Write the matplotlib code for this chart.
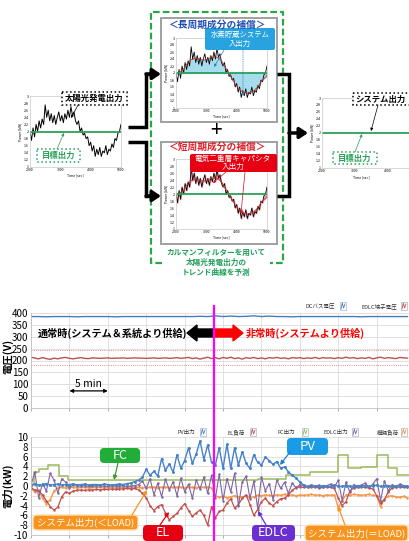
import numpy as np
import pandas as pd
import matplotlib
matplotlib.use('Agg')
import matplotlib.pyplot as plt
from matplotlib.patches import Rectangle, FancyBboxPatch, FancyArrow
from matplotlib.transforms import blended_transform_factory

plt.rcParams['font.family'] = ['Noto Sans CJK JP', 'DejaVu Sans']
plt.rcParams['axes.unicode_minus'] = False

W, H = 409, 541

# ---- diagram: PV output sample (kW), sampled every 50 s from 2000 s
solar_small = [2.0, 1.75, 2.1, 1.85,
               2.2, 2.0, 2.3, 2.1, 2.35, 2.2,
               2.75, 2.4, 2.6,
               2.3, 2.5, 2.25, 2.45, 2.2, 2.4,
               2.55, 2.3, 2.45, 2.25, 2.5, 2.35,
               2.6, 2.4, 2.7, 2.45, 2.55, 2.3,
               2.2, 2.3, 2.0, 2.1, 1.9, 1.95,
               1.8, 1.85, 1.6, 1.7, 1.45, 1.6,
               1.3, 1.5, 1.35, 1.55, 1.3, 1.45,
               1.4, 1.6, 1.35, 1.5, 1.45, 1.65,
               1.55, 1.8, 1.75, 1.95, 2.0, 2.2]
target_small = 2.0
small_ticks = [2000, 3000, 4000, 5000]

# ---- voltage chart (V)
dc_bus_v = [385, 385, 384, 385, 385, 385, 384, 385, 385, 385,
            385, 384, 385, 385, 385, 385, 385, 385, 385, 385,
            385, 385, 386, 385, 388, 385, 387, 385, 386, 388,
            385, 387, 385, 385, 384, 385, 385, 385, 385, 385,
            385, 385, 385, 384, 385, 385, 385, 385, 385, 385]
edlc_v = [214, 210, 207, 212, 208, 205, 210, 207, 211, 213,
          209, 207, 210, 212, 209, 208, 211, 210, 209, 210,
          211, 209, 210, 210, 211, 209, 210, 211, 210, 210,
          209, 210, 211, 209, 210, 211, 209, 210, 212, 209,
          211, 213, 208, 211, 206, 210, 214, 208, 212, 207,
          213, 209, 214, 208, 211, 206, 212, 209, 213, 208,
          211, 207, 212, 210, 213, 209, 211, 207, 212, 210,
          212, 208, 211, 209, 213, 208, 212, 210, 211, 208,
          212, 209, 214, 210, 212, 208, 211, 209, 213, 207,
          211, 214, 209, 212, 210, 208, 213, 211, 210]
edlc_v_max = 245
edlc_v_min = 180

# ---- power chart (kW), sampled every 0.5 min
pv_kw = [0.3, 0.4, 0.2, 0.3, 0.5, 0.2, 0.3, 0.4, 0.2, 0.3,
         0.3, 0.4, 0.2, 0.3, 0.4, 0.2, 0.3, 0.3, 0.2, 0.4,
         0.3, 0.2, 0.3, 0.4, 0.3, 0.5, 0.6, 0.9, 1.2,
         1.8, 3.4, 2.2, 3.0, 2.0, 5.6, 3.2, 4.5, 2.8, 6.4,
         3.6, 5.2, 7.8, 4.6, 6.5, 9.2, 5.4, 8.4, 4.8, 4.3,
         7.8, 3.6, 8.5, 3.6, 7.8, 4.3, 7.0, 4.6, 3.6, 6.4,
         4.8, 4.3, 5.9, 5.2, 4.4, 5.0, 3.6, 3.9, 2.9, 2.2,
         1.6, 0.8,
         0.2, -0.1, 0.1, 0.0, -0.2, 0.1, 0.0, -0.1, 0.2, 0.0,
         -0.1, 0.1, 0.0, -0.2, 0.1, 0.0, 0.1, -0.1, 0.0, 0.2,
         -0.1, 0.0, 0.1, -0.1, 0.0, 0.1, -0.1, 0.0]
el_kw = [-0.4, -0.8, -1.0, -1.8, -3.0, -4.2, -4.9, -4.3, -2.2, -1.2, -1.5, -1.0,
         -0.9, -0.8, -0.9, -0.8, -0.8, -0.7, -0.8, -0.7, -0.7, -0.6, -0.7, -0.6,
         -0.6, -0.5, -0.6, -0.5, -0.8,
         -1.5, -2.4, -4.0, -5.0, -4.2, -3.8, -5.5, -6.9, -6.2, -5.6,
         -4.5, -3.6, -5.0, -6.2, -5.5, -4.9, -6.0, -8.0, -4.2,
         -6.5, -5.2, -4.9, -3.5, -2.6, -4.5, -3.8, -2.5, -1.8, -3.8,
         -6.0, -4.8, -3.2, -2.5, -3.5, -4.0, -3.2, -2.6, -2.5, -1.8,
         -0.9, -0.3, -0.2,
         -0.3, -0.2, -0.3, -0.2, -0.4, -0.3, -0.2, -0.3, -0.5, -2.5,
         -4.0, -3.2, -1.0, -0.4, -0.3, -0.2, -0.3, -0.4, -0.6, -2.0,
         -3.5, -2.8, -1.2, -0.4, -0.3, -0.2, -0.3, -0.2]
edlc_kw = [0.2, 2.8, -2.4, 0.5, -1.0, 2.6, 1.2, -1.5, 1.5, 0.8, -0.4, 0.3,
           0.1, 0.0, 0.1, -0.1, 0.0, 0.1, 0.0, 0.0, -0.1, 0.1, 0.0, 0.0,
           0.1, -0.1, 0.0, 0.1, 0.3,
           1.0, -0.5, 1.5, -1.8, 0.6, -2.2, 1.4, -0.8, 0.9, -2.0,
           1.6, -1.2, 0.4, -2.5, 1.2, -0.6, 1.8, -1.5, 2.2,
           -2.5, 2.4, -3.0, 1.5, -1.2, 2.6, -4.0, 0.8, 2.0, -2.6,
           1.0, -4.5, 1.8, -1.0, 0.5, -2.8, 1.2, -0.5, 0.8, -1.5,
           0.6, -0.4, 0.3,
           0.1, -0.2, 0.3, -0.1, 0.2, -0.3, 0.1, 0.4, -0.2, 1.2,
           -3.0, 0.8, -1.2, 0.3, -0.2, 0.2, 0.6, -0.3, 0.4, 1.5,
           -3.0, 1.0, -1.0, 0.3, -0.2, 0.4, 0.1, -0.2]
load_kw = [-0.5, -1.2, -0.8, -2.5, -3.6, -2.8, -1.0,
           -0.4, -0.3, -0.4, -0.3, -0.3, -0.4, -0.3, -0.3, -0.4, -0.3,
           -0.3, -0.3, -0.4, -0.3, -0.3, -0.4, -0.3, -0.3, -0.3, -0.4,
           -0.3, -0.3, -0.4, -0.3, -0.3, -0.3, -0.4, -0.3, -0.3, -0.4,
           -0.3, -0.3, -0.3, -0.4, -0.3, -0.3, -0.4, -0.3, -0.3, -0.3,
           -0.4,
           -2.0, -2.3, -2.1, -2.4, -2.2, -2.0, -2.3, -2.2, -2.1, -2.4,
           -2.2, -1.9, -2.0, -1.8, -1.9, -2.0, -1.8, -1.9, -1.7, -1.9,
           -1.8, -2.0, -1.8, -1.9, -1.8, -1.7, -1.9, -1.8, -2.0, -1.8,
           -1.9, -1.8,
           -4.5, -3.0, -1.8, -1.9, -1.7, -1.8, -1.9, -1.8, -1.7, -1.9,
           -2.0, -4.2, -2.6, -2.1, -2.0, -2.2, -2.3, -2.1, -2.4]
# FC output is stepwise: (start minute, kW)
fc_t = [0, 0.4, 1.0, 2.2, 3.6, 4.8, 29.5, 33.2, 36.3, 40.0, 41.3, 43.0, 45.0, 46.5, 47.7, 49.2]
fc_kw = [0.3, 2.9, 3.5, 4.3, 2.0, 1.2, 1.5, 2.2, 2.9, 6.3, 3.7, 3.9, 6.3, 3.7, 2.2, 2.2]
t_switch = 23.8   # grid outage (min)
t_end = 49.2

C_PV, C_EL, C_FC, C_EDLC, C_LOAD = '#4682c8', '#c0504d', '#9bbb59', '#8064a2', '#f79646'
GREEN = '#2aa15a'


def px(x0, y0, x1, y1):
    return [x0 / W, 1 - y1 / H, (x1 - x0) / W, (y1 - y0) / H]


fig = plt.figure(figsize=(W / 100, H / 100), dpi=100)
small_time = 2000 + 50 * np.arange(len(solar_small))
trend = pd.Series(solar_small).rolling(9, center=True, min_periods=1).mean().values


def mini_axes(rect, ticks=small_ticks):
    ax = fig.add_axes(rect)
    ax.set_xlim(small_time[0], small_time[-1])
    ax.set_ylim(1, 3)
    yt = np.round(np.arange(1, 3.01, 0.2), 1)
    ax.set_yticks(yt)
    ax.set_yticklabels([f'{v:g}' for v in yt], fontsize=2.5)
    ax.set_xticks(ticks)
    ax.set_xticklabels([str(v) for v in ticks], fontsize=2.5)
    ax.tick_params(length=0, pad=1)
    ax.set_xlabel('Time [sec]', fontsize=2.5, labelpad=1)
    ax.set_ylabel('Power [kW]', fontsize=2.5, labelpad=1)
    for s in ax.spines.values():
        s.set_color('#c8c8c8')
        s.set_linewidth(0.5)
    return ax


ax_src = mini_axes(px(30, 96, 121, 167))
ax_src.plot(small_time, solar_small, color='black', lw=0.7)
ax_src.axhline(target_small, color=GREEN, lw=1.3)

ax_long = mini_axes(px(176, 38, 267, 108))
ax_long.fill_between(small_time, trend, target_small, color='#a6dcec')
ax_long.plot(small_time, solar_small, color='black', lw=0.6)
ax_long.plot(small_time, trend, color='#c0392b', lw=0.6)
ax_long.axhline(target_small, color=GREEN, lw=1.3)

ax_short = mini_axes(px(176, 159, 267, 229))
ax_short.fill_between(small_time, solar_small, trend, color='#f4a9bd')
ax_short.plot(small_time, solar_small, color='black', lw=0.6)
ax_short.plot(small_time, trend, color='#c0392b', lw=0.6)
ax_short.axhline(target_small, color=GREEN, lw=1.3)

# the output chart runs past the right edge of the picture
ax_out = mini_axes(px(322, 98, 420, 168), ticks=small_ticks[:3])
ax_out.axhline(target_small, color=GREEN, lw=1.3)
ax_out.xaxis.set_label_coords(0.4, -0.1)


def chart_style(ax):
    ax.set_xlim(0, t_end)
    ax.set_xticks(np.arange(0, t_end, 5))
    ax.tick_params(axis='x', labelbottom=False, length=2, color='#b0b0b0')
    ax.tick_params(axis='y', length=0, pad=2, labelsize=7)
    ax.grid(True, color='#dcdcdc', lw=0.6)
    ax.set_axisbelow(True)
    for k in ('top', 'right'):
        ax.spines[k].set_visible(False)
    for k in ('left', 'bottom'):
        ax.spines[k].set_color('#c0c0c0')
        ax.spines[k].set_linewidth(0.6)


ax_v = fig.add_axes(px(31, 313, 409, 408))
chart_style(ax_v)
ax_v.set_ylim(0, 400)
ax_v.set_yticks(np.arange(0, 401, 50))
ax_v.plot(np.arange(len(dc_bus_v)) * 1.0, dc_bus_v, color='#4a7ebb', lw=1.0)
ax_v.plot(np.arange(len(edlc_v)) * 0.5, edlc_v, color=C_EL, lw=1.0)
ax_v.axhline(edlc_v_max, color='#e06666', lw=0.6, ls=':')
ax_v.axhline(edlc_v_min, color='#e06666', lw=0.6, ls=':')
ax_v.annotate('', xy=(5, 72), xytext=(10, 72),
              arrowprops=dict(arrowstyle='<|-|>', color='black', lw=0.9, mutation_scale=5,
                              shrinkA=0, shrinkB=0))
ax_v.text(7.5, 82, '5 min', ha='center', va='bottom', fontsize=7.5)

ax_p = fig.add_axes(px(31, 437, 409, 535))
chart_style(ax_p)
ax_p.set_ylim(-10, 10)
ax_p.set_yticks(np.arange(-10, 11, 2))
t_p = np.arange(len(pv_kw)) * 0.5
ax_p.plot(fc_t, fc_kw, color=C_FC, lw=1.1, drawstyle='steps-post')
ax_p.plot(np.arange(len(load_kw)) * 0.5, load_kw, color=C_LOAD, lw=1.0, marker='.', ms=1.5)
ax_p.plot(np.arange(len(el_kw)) * 0.5, el_kw, color=C_EL, lw=0.9, marker='.', ms=1.5)
ax_p.plot(np.arange(len(edlc_kw)) * 0.5, edlc_kw, color=C_EDLC, lw=0.8, marker='.', ms=1.5)
ax_p.plot(t_p, pv_kw, color=C_PV, lw=1.0, marker='.', ms=2.2)

# ---- overlay in pixel coordinates for the diagram and call-outs
ov = fig.add_axes([0, 0, 1, 1], zorder=10)
ov.set_xlim(0, W)
ov.set_ylim(H, 0)
ov.axis('off')

blend = blended_transform_factory(ax_p.transData, ov.transData)
ov.plot([t_switch, t_switch], [306, 541], color='#ff00ff', lw=1.6, transform=blend)

# diagram frames and connectors
ov.plot([162, 151, 151, 283, 283, 270], [263, 263, 12, 12, 263, 263],
        color='#2aa54a', lw=1.6, dashes=(3, 1.4))
ov.add_patch(Rectangle((161, 18), 116, 104, fill=False, ec='#a0a0a0', lw=1.4))
ov.add_patch(Rectangle((161, 142), 116, 102, fill=False, ec='#a0a0a0', lw=1.4))
ov.text(216, 131, '+', fontsize=15, ha='center', va='center')

conn = dict(color='black', lw=2.5, solid_joinstyle='miter', solid_capstyle='butt')
ov.plot([128, 146, 146, 152], [127, 127, 74, 74], **conn)
ov.plot([128, 146, 146, 152], [142, 142, 196, 196], **conn)
ov.plot([277, 289, 289, 277], [74, 74, 196, 196], **conn)
big = dict(arrowstyle='-|>,head_length=0.6,head_width=0.4', color='black', lw=2.5,
           mutation_scale=8, shrinkA=0, shrinkB=0)
ov.annotate('', xy=(161, 74), xytext=(146, 74), arrowprops=big)
ov.annotate('', xy=(161, 196), xytext=(146, 196), arrowprops=big)
ov.annotate('', xy=(308, 133), xytext=(289, 133), arrowprops=big)

ov.text(217, 25, '＜長周期成分の補償＞', color='#1f4fb4', fontsize=7, weight='bold',
        ha='center', va='center')
ov.text(217, 147, '＜短周期成分の補償＞', color='#e0202a', fontsize=7, weight='bold',
        ha='center', va='center')
ov.add_patch(FancyBboxPatch((205, 28), 70, 22, boxstyle='round,pad=0,rounding_size=2',
                            fc='#29a3e0', ec='none'))
ov.text(240, 39, '水素貯蔵システム\n入出力', color='white', fontsize=5.3, ha='center',
        va='center', linespacing=1.15)
ov.add_patch(FancyBboxPatch((190, 154), 87, 18, boxstyle='round,pad=0,rounding_size=2',
                            fc='#e60012', ec='none'))
ov.text(233, 163, '電気二重層キャパシタ\n入出力', color='white', fontsize=5.5, ha='center',
        va='center', linespacing=1.1)

thin = lambda c: dict(arrowstyle='-|>', color=c, lw=0.5, mutation_scale=4, shrinkA=0, shrinkB=0)
ov.annotate('', xy=(214, 67), xytext=(224, 50), arrowprops=thin('#2a7fc0'))
ov.annotate('', xy=(243, 96), xytext=(243, 50),
            arrowprops=dict(thin('#2a7fc0'), linestyle=':'))
ov.annotate('', xy=(213, 183), xytext=(226, 172), arrowprops=thin('#d01020'))
ov.annotate('', xy=(241, 213), xytext=(245, 172), arrowprops=thin('#d01020'))

ov.text(216, 262, 'カルマンフィルターを用いて\n太陽光発電出力の\nトレンド曲線を予測',
        color='#1f9e5b', fontsize=5.5, weight='bold', ha='center', va='center',
        linespacing=1.15)


def dotted_box(x0, y0, x1, y1, text, ec, tc, xt=None):
    ov.add_patch(Rectangle((x0, y0), x1 - x0, y1 - y0, fc='white', ec=ec, lw=1.1, ls=':'))
    xt = (x0 + x1) / 2 if xt is None else xt
    ov.text(xt, (y0 + y1) / 2, text, color=tc, fontsize=6, weight='bold',
            ha='center', va='center')


dotted_box(62, 92, 127, 105, '太陽光発電出力', 'black', 'black')
dotted_box(37, 149, 80, 162, '目標出力', GREEN, GREEN)
dotted_box(353, 93, 412, 105, 'システム出力', 'black', 'black', xt=380)
dotted_box(333, 152, 377, 164, '目標出力', GREEN, GREEN)
ov.annotate('', xy=(71, 118), xytext=(78, 105), arrowprops=thin('black'))
ov.annotate('', xy=(64, 133), xytext=(57, 149), arrowprops=thin(GREEN))
ov.annotate('', xy=(371, 131), xytext=(378, 105), arrowprops=thin('black'))
ov.annotate('', xy=(362, 134), xytext=(355, 152), arrowprops=thin(GREEN))

# voltage chart annotations
ov.text(38, 333, '通常時(システム＆系統より供給)', fontsize=7.3, weight='bold',
        ha='left', va='center')
ov.add_patch(FancyArrow(213, 333, -26, 0, width=8, head_width=16, head_length=10,
                        length_includes_head=True, color='black'))
ov.add_patch(FancyArrow(214, 333, 29, 0, width=8, head_width=16, head_length=10,
                        length_includes_head=True, color='#ff0000'))
ov.text(246, 333, '非常時(システムより供給)', fontsize=7.3, weight='bold', color='#ff0000',
        ha='left', va='center')
ov.text(8, 356, '電圧(V)', rotation=90, fontsize=7.5, weight='bold', ha='center', va='center')
ov.text(8, 486, '電力(kW)', rotation=90, fontsize=7.5, weight='bold', ha='center', va='center')


def legend_item(x_text, x_icon, y, label, color):
    ov.text(x_text, y, label, fontsize=4, color='#333333', ha='left', va='center')
    ov.add_patch(Rectangle((x_icon, y - 4), 6, 8, fill=False, ec='#aab8d0', lw=0.5))
    ov.plot([x_icon + 1, x_icon + 2.3, x_icon + 3.6, x_icon + 5], [y + 3, y - 3, y + 2, y - 2],
            color=color, lw=0.6)


legend_item(305, 340, 306, 'DCバス電圧', '#4a7ebb')
legend_item(361, 401, 306, 'EDLC端子電圧', C_EL)
legend_item(177, 200, 432, 'PV出力', C_PV)
legend_item(228, 250, 432, 'EL負荷', C_EL)
legend_item(278, 302, 432, 'FC出力', C_FC)
legend_item(323, 352, 432, 'EDLC出力', C_EDLC)
legend_item(377, 401, 432, '模擬負荷', C_LOAD)


def tag(x0, y0, x1, y1, text, fc, fs, ec='none'):
    ov.add_patch(FancyBboxPatch((x0, y0), x1 - x0, y1 - y0,
                                boxstyle='round,pad=0,rounding_size=4', fc=fc, ec=ec, lw=1))
    ov.text((x0 + x1) / 2, (y0 + y1) / 2, text, color='white', fontsize=fs,
            ha='center', va='center')


tag(100, 448, 140, 463, 'FC', '#22ac38', 9)
tag(33, 515, 138, 530, 'システム出力(＜LOAD)', '#f7931e', 6.8, ec='#fde0b0')
tag(143, 525, 183, 541, 'EL', '#e60012', 9)
tag(287, 438, 328, 455, 'PV', '#1a9be6', 9.5)
tag(252, 525, 295, 541, 'EDLC', '#6a2fd0', 9)
tag(305, 525, 408, 541, 'システム出力(＝LOAD)', '#f7931e', 6.8, ec='#fde0b0')

call = lambda c: dict(arrowstyle='-|>', color=c, lw=0.9, mutation_scale=6, shrinkA=0, shrinkB=0)
ov.annotate('', xy=(114, 480), xytext=(118, 463), arrowprops=call('#3a9a30'))
ov.annotate('', xy=(147, 490), xytext=(132, 515), arrowprops=call('#f7931e'))
ov.annotate('', xy=(169, 512), xytext=(160, 525), arrowprops=call('#e60012'))
ov.annotate('', xy=(280, 465), xytext=(290, 452), arrowprops=call('#1a7fd0'))
ov.annotate('', xy=(258, 511), xytext=(266, 525), arrowprops=call('#6a2fd0'))
ov.annotate('', xy=(338, 506), xytext=(345, 525), arrowprops=call('#f7931e'))

fig.savefig('out.png', dpi=100, facecolor='white')
